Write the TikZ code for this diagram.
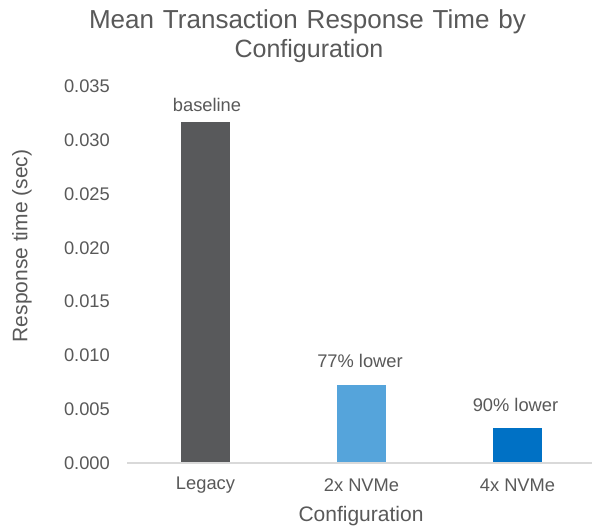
\documentclass[tikz,border=0pt]{standalone}
\usepackage{fontspec}
\setmainfont{Liberation Sans}
\definecolor{txtgray}{HTML}{595959}
\definecolor{axisgray}{HTML}{D9D9D9}
\definecolor{legacyfill}{HTML}{58595B}
\definecolor{twofill}{HTML}{55A4DB}
\definecolor{fourfill}{HTML}{0071C5}
\tikzset{
  lbl/.style={text=txtgray, inner sep=0pt, font=\fontsize{18.3}{22}\selectfont},
  ttl/.style={text=txtgray, inner sep=0pt, anchor=base, font=\fontsize{25}{30}\selectfont},
  ttlbig/.style={text=txtgray, inner sep=0pt, anchor=base, font=\fontsize{26}{30}\selectfont},
  axttl/.style={text=txtgray, inner sep=0pt, font=\fontsize{21}{25}\selectfont},
  bar/.style={draw=none, inner sep=0pt, anchor=south, minimum width=49pt},
}
\begin{document}
\begin{tikzpicture}[x=1pt,y=-1pt]
\useasboundingbox (0,0) rectangle (592,529);
\fill[white] (0,0) rectangle (592,529);
% title
\node[ttlbig] (t1) at (307.5,28.5) {\spaceskip=8.9pt\relax Mean Transaction Response Time by};
\node[ttl] (t2) at (309,58) {Configuration};
% y tick labels
\node[lbl, anchor=east] (y35) at (110,86.4) {0.035};
\node[lbl, anchor=east] (y30) at (110,140.2) {0.030};
\node[lbl, anchor=east] (y25) at (110,194) {0.025};
\node[lbl, anchor=east] (y20) at (110,247.8) {0.020};
\node[lbl, anchor=east] (y15) at (110,301.6) {0.015};
\node[lbl, anchor=east] (y10) at (110,355.4) {0.010};
\node[lbl, anchor=east] (y05) at (110,409.2) {0.005};
\node[lbl, anchor=east] (y00) at (110,463) {0.000};
% bars
\node[bar, fill=legacyfill, minimum height=341pt] (b1) at (205.5,463) {};
\node[bar, fill=twofill, minimum height=78pt] (b2) at (361.5,463) {};
\node[bar, fill=fourfill, minimum height=35pt] (b3) at (517.5,463) {};
% axis line
\coordinate (axl) at (127,463);
\coordinate (axr) at (592,463);
\draw[axisgray, line width=1.5pt] (axl) -- (axr);
% data labels
\node[lbl] (d1) at (207,105) {baseline};
\node[lbl] (d2) at (360,361) {77\% lower};
\node[lbl] (d3) at (515.5,405) {90\% lower};
% category labels
\node[lbl] (c1) at (205.5,485.5) {Legacy};
\node[lbl] (c2) at (361.5,485.5) {2x NVMe};
\node[lbl] (c3) at (517.5,485.5) {4x NVMe};
% axis titles
\node[axttl] (xt) at (361,516) {Configuration};
\node[axttl, rotate=90] (yt) at (22,246) {Response time (sec)};
\end{tikzpicture}
\end{document}
